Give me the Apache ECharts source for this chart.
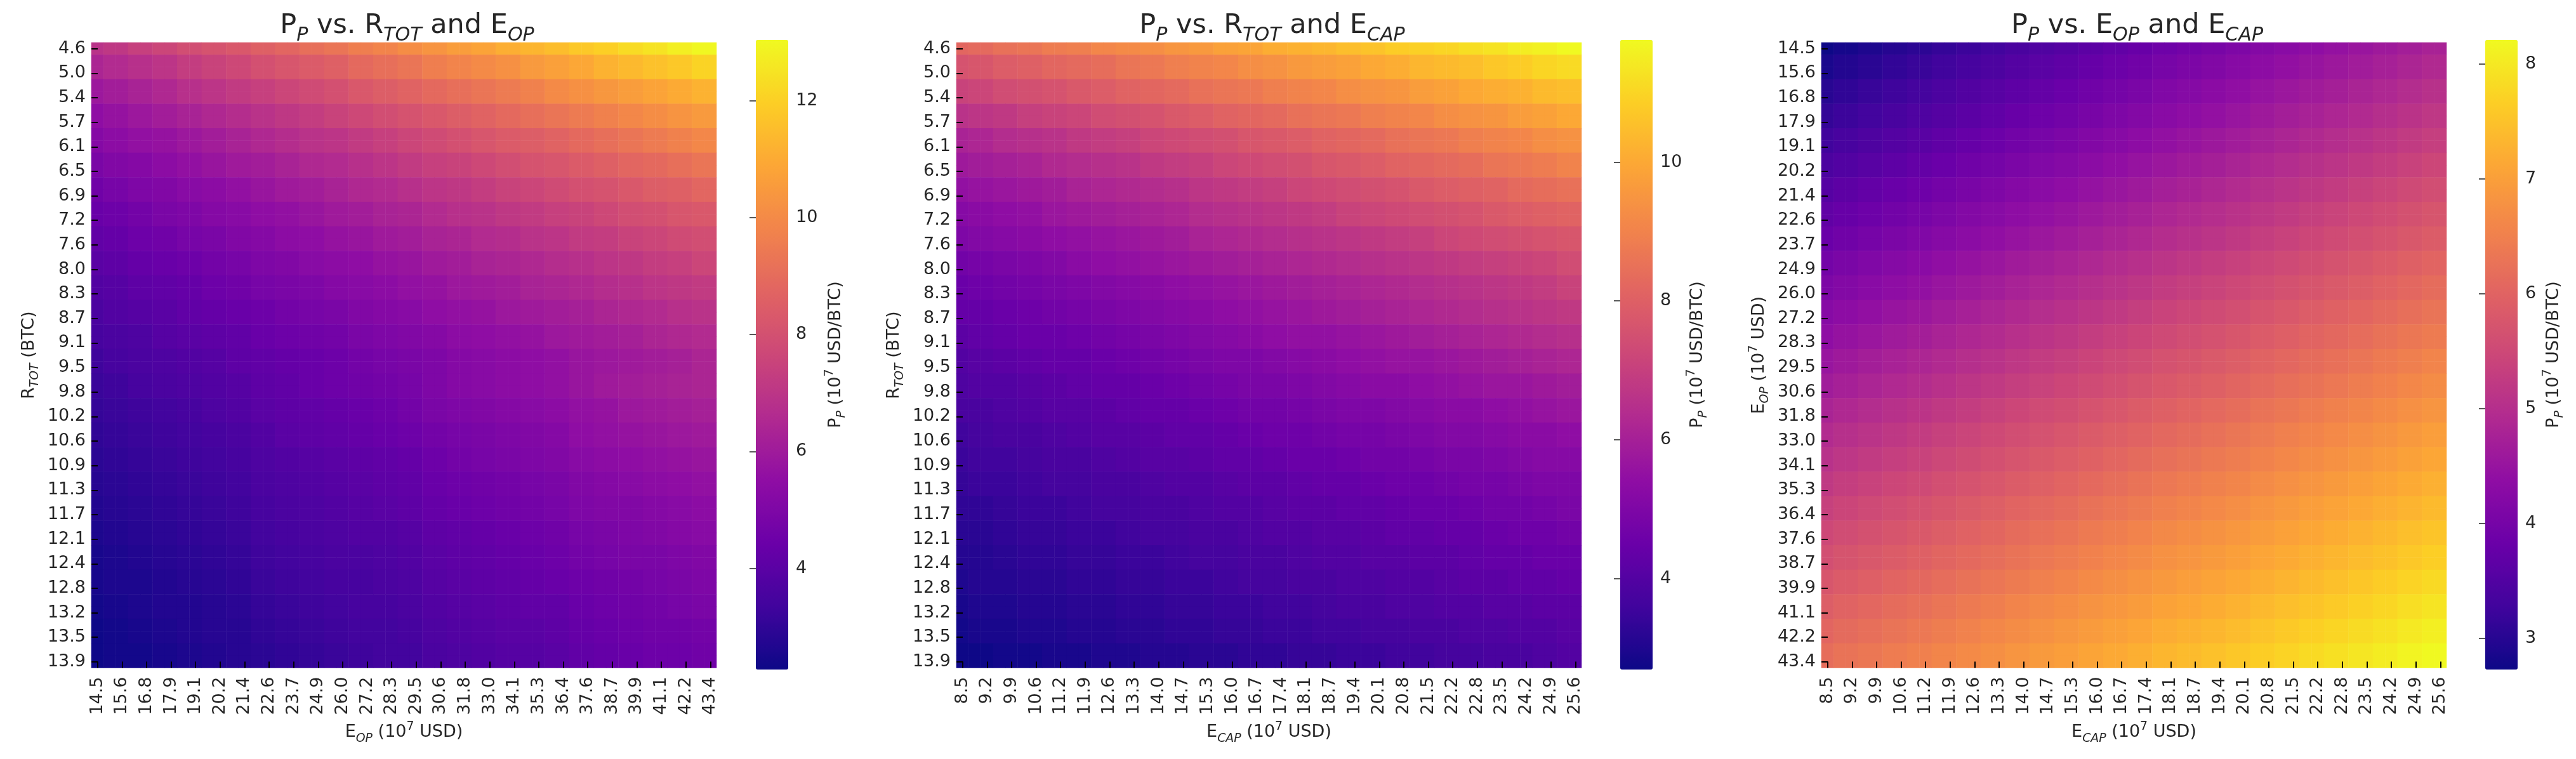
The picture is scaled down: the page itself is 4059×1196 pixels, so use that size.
<!DOCTYPE html>
<html><head><meta charset="utf-8">
<style>html,body{margin:0;padding:0;background:#fff}#c{width:4059px;height:1196px}</style>
<script src="https://cdn.jsdelivr.net/npm/echarts@6/dist/echarts.min.js"></script>
</head><body><div id="c"></div>
<script>
const rTotLabels=['4.6','5.0','5.4','5.7','6.1','6.5','6.9','7.2','7.6','8.0','8.3','8.7','9.1','9.5','9.8','10.2','10.6','10.9','11.3','11.7','12.1','12.4','12.8','13.2','13.5','13.9'];
const eOpLabels=['14.5','15.6','16.8','17.9','19.1','20.2','21.4','22.6','23.7','24.9','26.0','27.2','28.3','29.5','30.6','31.8','33.0','34.1','35.3','36.4','37.6','38.7','39.9','41.1','42.2','43.4'];
const eCapLabels=['8.5','9.2','9.9','10.6','11.2','11.9','12.6','13.3','14.0','14.7','15.3','16.0','16.7','17.4','18.1','18.7','19.4','20.1','20.8','21.5','22.2','22.8','23.5','24.2','24.9','25.6'];
const range1=[2.27,13.04], range2=[2.69,11.76], range3=[2.73,8.21];
const ticks1=[4,6,8,10,12], ticks2=[4,6,8,10], ticks3=[3,4,5,6,7,8];
const plasma=['#0d0887','#41049d','#6a00a8','#8f0da4','#b12a90','#cc4778','#e16462','#f2844b','#fca636','#fcce25','#f0f921'];
const pRvsOp=[
[6.9,7.1,7.4,7.6,7.9,8.1,8.3,8.6,8.8,9.1,9.3,9.6,9.8,10.1,10.3,10.6,10.8,11.1,11.3,11.5,11.8,12.0,12.3,12.5,12.8,13.0],
[6.4,6.6,6.8,7.0,7.3,7.5,7.7,8.0,8.2,8.4,8.6,8.9,9.1,9.3,9.6,9.8,10.0,10.2,10.5,10.7,10.9,11.2,11.4,11.6,11.8,12.1],
[5.9,6.1,6.3,6.5,6.8,7.0,7.2,7.4,7.6,7.8,8.0,8.3,8.5,8.7,8.9,9.1,9.3,9.5,9.7,10.0,10.2,10.4,10.6,10.8,11.0,11.2],
[5.5,5.7,5.9,6.1,6.3,6.5,6.7,6.9,7.1,7.3,7.5,7.7,7.9,8.1,8.3,8.5,8.7,8.9,9.1,9.3,9.5,9.7,9.9,10.1,10.3,10.5],
[5.2,5.4,5.6,5.7,5.9,6.1,6.3,6.5,6.7,6.9,7.0,7.2,7.4,7.6,7.8,8.0,8.2,8.4,8.5,8.7,8.9,9.1,9.3,9.5,9.7,9.9],
[4.9,5.1,5.2,5.4,5.6,5.8,6.0,6.1,6.3,6.5,6.6,6.8,7.0,7.2,7.4,7.5,7.7,7.9,8.1,8.2,8.4,8.6,8.8,8.9,9.1,9.3],
[4.6,4.8,5.0,5.1,5.3,5.4,5.6,5.8,6.0,6.1,6.3,6.5,6.6,6.8,7.0,7.1,7.3,7.5,7.6,7.8,8.0,8.1,8.3,8.5,8.6,8.8],
[4.4,4.5,4.7,4.9,5.0,5.2,5.3,5.5,5.6,5.8,6.0,6.1,6.3,6.4,6.6,6.8,6.9,7.1,7.2,7.4,7.5,7.7,7.9,8.0,8.2,8.3],
[4.2,4.3,4.5,4.6,4.8,4.9,5.1,5.2,5.4,5.5,5.7,5.8,6.0,6.1,6.3,6.4,6.6,6.7,6.9,7.0,7.2,7.3,7.5,7.6,7.8,7.9],
[4.0,4.1,4.3,4.4,4.5,4.7,4.8,5.0,5.1,5.3,5.4,5.5,5.7,5.8,6.0,6.1,6.3,6.4,6.5,6.7,6.8,7.0,7.1,7.3,7.4,7.6],
[3.8,3.9,4.1,4.2,4.3,4.5,4.6,4.8,4.9,5.0,5.2,5.3,5.4,5.6,5.7,5.9,6.0,6.1,6.3,6.4,6.5,6.7,6.8,7.0,7.1,7.2],
[3.6,3.8,3.9,4.0,4.2,4.3,4.4,4.5,4.7,4.8,4.9,5.1,5.2,5.3,5.5,5.6,5.7,5.9,6.0,6.1,6.2,6.4,6.5,6.6,6.8,6.9],
[3.5,3.6,3.7,3.9,4.0,4.1,4.2,4.4,4.5,4.6,4.7,4.9,5.0,5.1,5.2,5.4,5.5,5.6,5.7,5.9,6.0,6.1,6.2,6.4,6.5,6.6],
[3.3,3.5,3.6,3.7,3.8,3.9,4.1,4.2,4.3,4.4,4.5,4.7,4.8,4.9,5.0,5.2,5.3,5.4,5.5,5.6,5.8,5.9,6.0,6.1,6.2,6.4],
[3.2,3.3,3.5,3.6,3.7,3.8,3.9,4.1,4.2,4.4,4.5,4.6,4.7,4.8,5.0,5.2,5.3,5.4,5.5,5.6,5.8,6.0,6.1,6.2,6.3,6.4],
[3.1,3.2,3.3,3.4,3.5,3.7,3.8,4.0,4.1,4.2,4.3,4.4,4.5,4.7,4.9,5.0,5.1,5.2,5.3,5.4,5.6,5.7,5.9,6.0,6.1,6.2],
[3.0,3.1,3.2,3.3,3.4,3.5,3.6,3.8,4.0,4.1,4.2,4.3,4.4,4.5,4.7,4.8,4.9,5.0,5.1,5.2,5.5,5.6,5.7,5.8,5.9,6.0],
[2.9,3.0,3.1,3.2,3.3,3.4,3.5,3.7,3.8,3.9,4.0,4.1,4.2,4.3,4.5,4.7,4.8,4.9,5.0,5.1,5.3,5.4,5.5,5.6,5.7,5.8],
[2.8,2.9,3.0,3.1,3.2,3.3,3.4,3.6,3.7,3.8,3.9,4.0,4.1,4.2,4.4,4.5,4.6,4.7,4.8,4.9,5.1,5.2,5.3,5.4,5.5,5.6],
[2.7,2.8,2.9,3.0,3.1,3.2,3.3,3.5,3.6,3.7,3.8,3.9,4.0,4.1,4.3,4.4,4.5,4.6,4.7,4.8,5.0,5.1,5.1,5.2,5.3,5.4],
[2.6,2.7,2.8,2.9,3.0,3.1,3.2,3.4,3.5,3.6,3.7,3.8,3.8,3.9,4.1,4.2,4.3,4.4,4.5,4.6,4.8,4.9,5.0,5.1,5.2,5.3],
[2.5,2.6,2.7,2.8,2.9,3.0,3.1,3.3,3.4,3.5,3.6,3.6,3.7,3.8,4.0,4.1,4.2,4.3,4.4,4.5,4.7,4.8,4.9,4.9,5.0,5.1],
[2.5,2.6,2.6,2.7,2.8,2.9,3.0,3.2,3.3,3.4,3.5,3.5,3.6,3.7,3.9,4.0,4.1,4.2,4.3,4.4,4.5,4.6,4.7,4.8,4.9,5.0],
[2.4,2.5,2.6,2.7,2.7,2.8,2.9,3.1,3.2,3.3,3.4,3.5,3.5,3.6,3.8,3.9,4.0,4.1,4.2,4.2,4.4,4.5,4.6,4.7,4.8,4.9],
[2.3,2.4,2.5,2.6,2.7,2.8,2.8,3.0,3.1,3.2,3.3,3.4,3.4,3.5,3.7,3.8,3.9,4.0,4.0,4.1,4.3,4.4,4.5,4.6,4.6,4.7],
[2.3,2.4,2.4,2.5,2.6,2.7,2.8,2.9,3.0,3.1,3.2,3.3,3.4,3.4,3.6,3.7,3.8,3.9,3.9,4.0,4.2,4.3,4.4,4.5,4.5,4.6]];
const pRvsCap=[
[8.2,8.3,8.5,8.6,8.8,8.9,9.1,9.2,9.3,9.5,9.6,9.8,9.9,10.1,10.2,10.3,10.5,10.6,10.8,10.9,11.0,11.2,11.3,11.5,11.6,11.8],
[7.6,7.7,7.9,8.0,8.2,8.3,8.4,8.6,8.7,8.9,9.0,9.1,9.3,9.4,9.6,9.7,9.8,10.0,10.1,10.3,10.4,10.5,10.7,10.8,11.0,11.1],
[7.1,7.2,7.4,7.5,7.6,7.8,7.9,8.1,8.2,8.3,8.5,8.6,8.7,8.9,9.0,9.1,9.3,9.4,9.5,9.7,9.8,10.0,10.1,10.2,10.4,10.5],
[6.6,6.7,6.8,7.0,7.1,7.2,7.4,7.5,7.6,7.8,7.9,8.1,8.2,8.3,8.5,8.6,8.7,8.9,9.0,9.1,9.3,9.4,9.5,9.7,9.8,10.0],
[6.1,6.2,6.4,6.5,6.6,6.8,6.9,7.0,7.2,7.3,7.4,7.5,7.7,7.8,7.9,8.1,8.2,8.3,8.5,8.6,8.7,8.9,9.0,9.1,9.3,9.4],
[5.8,5.9,6.0,6.1,6.3,6.4,6.5,6.6,6.8,6.9,7.0,7.2,7.3,7.4,7.5,7.7,7.8,7.9,8.1,8.2,8.3,8.4,8.6,8.7,8.8,9.0],
[5.5,5.6,5.7,5.8,5.9,6.1,6.2,6.3,6.4,6.5,6.7,6.8,6.9,7.0,7.2,7.3,7.4,7.5,7.6,7.8,7.9,8.0,8.1,8.3,8.4,8.5],
[5.2,5.3,5.4,5.5,5.7,5.8,5.9,6.0,6.1,6.2,6.4,6.5,6.6,6.7,6.8,6.9,7.1,7.2,7.3,7.4,7.5,7.6,7.8,7.9,8.0,8.1],
[5.0,5.1,5.2,5.3,5.4,5.5,5.6,5.7,5.8,5.9,6.1,6.2,6.3,6.4,6.5,6.6,6.7,6.8,6.9,7.0,7.2,7.3,7.4,7.5,7.6,7.7],
[4.7,4.8,4.9,5.0,5.1,5.3,5.4,5.5,5.6,5.7,5.8,5.9,6.0,6.1,6.2,6.3,6.4,6.5,6.6,6.7,6.8,6.9,7.0,7.1,7.2,7.4],
[4.5,4.6,4.7,4.8,4.9,5.0,5.1,5.2,5.3,5.4,5.5,5.6,5.7,5.8,5.9,6.0,6.1,6.2,6.3,6.4,6.5,6.6,6.7,6.8,6.9,7.1],
[4.4,4.4,4.5,4.6,4.7,4.8,4.9,5.0,5.1,5.2,5.3,5.4,5.5,5.6,5.7,5.8,5.9,6.0,6.1,6.2,6.3,6.4,6.5,6.6,6.7,6.8],
[4.2,4.3,4.4,4.5,4.5,4.6,4.7,4.8,4.9,5.0,5.1,5.2,5.3,5.4,5.5,5.5,5.6,5.7,5.8,5.9,6.0,6.1,6.2,6.3,6.4,6.5],
[4.0,4.1,4.2,4.3,4.4,4.4,4.5,4.6,4.7,4.8,4.9,5.0,5.0,5.1,5.2,5.3,5.4,5.5,5.6,5.6,5.7,5.8,5.9,6.0,6.1,6.2],
[3.9,4.0,4.0,4.1,4.2,4.3,4.4,4.4,4.5,4.6,4.7,4.8,4.9,4.9,5.0,5.1,5.2,5.3,5.3,5.4,5.5,5.6,5.7,5.7,5.8,5.9],
[3.8,3.8,3.9,4.0,4.1,4.1,4.2,4.3,4.4,4.4,4.5,4.6,4.7,4.7,4.8,4.9,5.0,5.0,5.1,5.2,5.3,5.3,5.4,5.5,5.6,5.7],
[3.6,3.7,3.8,3.8,3.9,4.0,4.1,4.1,4.2,4.3,4.3,4.4,4.5,4.6,4.6,4.7,4.8,4.8,4.9,5.0,5.1,5.1,5.2,5.3,5.3,5.4],
[3.5,3.6,3.6,3.7,3.8,3.8,3.9,4.0,4.1,4.1,4.2,4.3,4.3,4.4,4.5,4.5,4.6,4.7,4.7,4.8,4.9,4.9,5.0,5.1,5.2,5.2],
[3.4,3.5,3.5,3.6,3.7,3.7,3.8,3.8,3.9,4.0,4.0,4.1,4.2,4.2,4.3,4.4,4.4,4.5,4.6,4.6,4.7,4.8,4.8,4.9,5.0,5.0],
[3.3,3.3,3.4,3.5,3.5,3.6,3.7,3.7,3.8,3.8,3.9,4.0,4.0,4.1,4.2,4.2,4.3,4.3,4.4,4.5,4.5,4.6,4.7,4.7,4.8,4.9],
[3.2,3.2,3.3,3.4,3.4,3.5,3.5,3.6,3.7,3.7,3.8,3.8,3.9,4.0,4.0,4.1,4.1,4.2,4.3,4.3,4.4,4.4,4.5,4.6,4.6,4.7],
[3.1,3.1,3.2,3.3,3.3,3.4,3.4,3.5,3.5,3.6,3.7,3.7,3.8,3.8,3.9,4.0,4.0,4.1,4.1,4.2,4.2,4.3,4.4,4.4,4.5,4.5],
[3.0,3.1,3.1,3.2,3.2,3.3,3.3,3.4,3.4,3.5,3.5,3.6,3.7,3.7,3.8,3.8,3.9,3.9,4.0,4.0,4.1,4.2,4.2,4.3,4.3,4.4],
[2.9,3.0,3.0,3.1,3.1,3.2,3.2,3.3,3.3,3.4,3.4,3.5,3.5,3.6,3.6,3.7,3.8,3.8,3.9,3.9,4.0,4.0,4.1,4.1,4.2,4.2],
[2.8,2.9,2.9,3.0,3.0,3.1,3.1,3.2,3.2,3.3,3.3,3.4,3.4,3.5,3.5,3.6,3.6,3.7,3.7,3.8,3.8,3.9,3.9,4.0,4.0,4.1],
[2.7,2.7,2.8,2.8,2.9,2.9,3.0,3.0,3.1,3.1,3.2,3.2,3.3,3.3,3.4,3.4,3.5,3.5,3.6,3.6,3.7,3.7,3.8,3.8,3.9,4.0]];
const pOpvsCap=[
[2.74,2.83,2.91,2.99,3.06,3.15,3.23,3.31,3.40,3.48,3.55,3.64,3.72,3.80,3.89,3.96,4.04,4.12,4.21,4.29,4.37,4.45,4.53,4.61,4.70,4.78],
[2.87,2.96,3.04,3.12,3.19,3.28,3.36,3.44,3.53,3.61,3.68,3.77,3.85,3.93,4.02,4.09,4.17,4.25,4.34,4.42,4.50,4.58,4.66,4.74,4.83,4.91],
[3.01,3.10,3.18,3.26,3.33,3.42,3.50,3.58,3.67,3.75,3.82,3.91,3.99,4.07,4.16,4.23,4.31,4.39,4.48,4.56,4.64,4.72,4.80,4.88,4.97,5.05],
[3.14,3.23,3.31,3.39,3.46,3.55,3.63,3.71,3.80,3.88,3.95,4.04,4.12,4.20,4.29,4.36,4.44,4.52,4.61,4.69,4.77,4.85,4.93,5.01,5.10,5.18],
[3.28,3.37,3.45,3.53,3.60,3.69,3.77,3.85,3.94,4.02,4.09,4.18,4.26,4.34,4.43,4.50,4.58,4.66,4.75,4.83,4.91,4.99,5.07,5.15,5.24,5.32],
[3.42,3.51,3.59,3.67,3.74,3.83,3.91,3.99,4.08,4.16,4.23,4.32,4.40,4.48,4.57,4.64,4.72,4.80,4.89,4.97,5.05,5.13,5.21,5.29,5.38,5.46],
[3.56,3.65,3.73,3.81,3.88,3.97,4.05,4.13,4.22,4.30,4.37,4.46,4.54,4.62,4.71,4.78,4.86,4.94,5.03,5.11,5.19,5.27,5.35,5.43,5.52,5.60],
[3.70,3.79,3.87,3.95,4.02,4.11,4.19,4.27,4.36,4.44,4.51,4.60,4.68,4.76,4.85,4.92,5.00,5.08,5.17,5.25,5.33,5.41,5.49,5.57,5.66,5.74],
[3.83,3.92,4.00,4.08,4.15,4.24,4.32,4.40,4.49,4.57,4.64,4.73,4.81,4.89,4.98,5.05,5.13,5.21,5.30,5.38,5.46,5.54,5.62,5.70,5.79,5.87],
[3.98,4.07,4.15,4.23,4.30,4.39,4.47,4.55,4.64,4.72,4.79,4.88,4.96,5.04,5.13,5.20,5.28,5.36,5.45,5.53,5.61,5.69,5.77,5.85,5.94,6.02],
[4.11,4.20,4.28,4.36,4.43,4.52,4.60,4.68,4.77,4.85,4.92,5.01,5.09,5.17,5.26,5.33,5.41,5.49,5.58,5.66,5.74,5.82,5.90,5.98,6.07,6.15],
[4.25,4.34,4.42,4.50,4.57,4.66,4.74,4.82,4.91,4.99,5.06,5.15,5.23,5.31,5.40,5.47,5.55,5.63,5.72,5.80,5.88,5.96,6.04,6.12,6.21,6.29],
[4.38,4.47,4.55,4.63,4.70,4.79,4.87,4.95,5.04,5.12,5.19,5.28,5.36,5.44,5.53,5.60,5.68,5.76,5.85,5.93,6.01,6.09,6.17,6.25,6.34,6.42],
[4.52,4.61,4.69,4.77,4.84,4.93,5.01,5.09,5.18,5.26,5.33,5.42,5.50,5.58,5.67,5.74,5.82,5.90,5.99,6.07,6.15,6.23,6.31,6.39,6.48,6.56],
[4.65,4.74,4.82,4.90,4.97,5.06,5.14,5.22,5.31,5.39,5.46,5.55,5.63,5.71,5.80,5.87,5.95,6.03,6.12,6.20,6.28,6.36,6.44,6.52,6.61,6.69],
[4.80,4.89,4.97,5.05,5.12,5.21,5.29,5.37,5.46,5.54,5.61,5.70,5.78,5.86,5.95,6.02,6.10,6.18,6.27,6.35,6.43,6.51,6.59,6.67,6.76,6.84],
[4.94,5.03,5.11,5.19,5.26,5.35,5.43,5.51,5.60,5.68,5.75,5.84,5.92,6.00,6.09,6.16,6.24,6.32,6.41,6.49,6.57,6.65,6.73,6.81,6.90,6.98],
[5.07,5.16,5.24,5.32,5.39,5.48,5.56,5.64,5.73,5.81,5.88,5.97,6.05,6.13,6.22,6.29,6.37,6.45,6.54,6.62,6.70,6.78,6.86,6.94,7.03,7.11],
[5.21,5.30,5.38,5.46,5.53,5.62,5.70,5.78,5.87,5.95,6.02,6.11,6.19,6.27,6.36,6.43,6.51,6.59,6.68,6.76,6.84,6.92,7.00,7.08,7.17,7.25],
[5.35,5.44,5.52,5.60,5.67,5.76,5.84,5.92,6.01,6.09,6.16,6.25,6.33,6.41,6.50,6.57,6.65,6.73,6.82,6.90,6.98,7.06,7.14,7.22,7.31,7.39],
[5.49,5.58,5.66,5.74,5.81,5.90,5.98,6.06,6.15,6.23,6.30,6.39,6.47,6.55,6.64,6.71,6.79,6.87,6.96,7.04,7.12,7.20,7.28,7.36,7.45,7.53],
[5.62,5.71,5.79,5.87,5.94,6.03,6.11,6.19,6.28,6.36,6.43,6.52,6.60,6.68,6.77,6.84,6.92,7.00,7.09,7.17,7.25,7.33,7.41,7.49,7.58,7.66],
[5.76,5.85,5.93,6.01,6.08,6.17,6.25,6.33,6.42,6.50,6.57,6.66,6.74,6.82,6.91,6.98,7.06,7.14,7.23,7.31,7.39,7.47,7.55,7.63,7.72,7.80],
[5.90,5.99,6.07,6.15,6.22,6.31,6.39,6.47,6.56,6.64,6.71,6.80,6.88,6.96,7.05,7.12,7.20,7.28,7.37,7.45,7.53,7.61,7.69,7.77,7.86,7.94],
[6.04,6.13,6.21,6.29,6.36,6.45,6.53,6.61,6.70,6.78,6.85,6.94,7.02,7.10,7.19,7.26,7.34,7.42,7.51,7.59,7.67,7.75,7.83,7.91,8.00,8.08],
[6.18,6.27,6.35,6.43,6.50,6.59,6.67,6.75,6.84,6.92,6.99,7.08,7.16,7.24,7.33,7.40,7.48,7.56,7.65,7.73,7.81,7.89,7.97,8.05,8.14,8.21]];

const FONT='DejaVu Sans', INK='#262626';
const rich=(size)=>({
  n:{fontFamily:FONT,fontWeight:'normal',fontSize:size,color:INK,lineHeight:size*1.4,verticalAlign:'middle'},
  s:{fontFamily:FONT,fontWeight:'normal',fontSize:size*0.7,fontStyle:'italic',color:INK,lineHeight:size*1.4,verticalAlign:'bottom'},
  u:{fontFamily:FONT,fontWeight:'normal',fontSize:size*0.7,color:INK,lineHeight:size*1.4,verticalAlign:'top'}
});
const sym=(a,b)=>`{n|${a}}{s|${b}}`;
const E_OP=sym('E','OP')+'{n| (10}{u|7}{n| USD)}', E_CAP=sym('E','CAP')+'{n| (10}{u|7}{n| USD)}', R_TOT=sym('R','TOT')+'{n| (BTC)}';
const P_NAME=sym('P','P')+'{n| (10}{u|7}{n| USD/BTC)}';

const panels=[
 {left:144,bar:1191,barGap:56,title:sym('P','P')+'{n| vs. R}{s|TOT}{n| and E}{s|OP}',xLab:eOpLabels,yLab:rTotLabels,xName:E_OP,yName:R_TOT,data:pRvsOp,range:range1,ticks:ticks1},
 {left:1507,bar:2553,barGap:52,title:sym('P','P')+'{n| vs. R}{s|TOT}{n| and E}{s|CAP}',xLab:eCapLabels,yLab:rTotLabels,xName:E_CAP,yName:R_TOT,data:pRvsCap,range:range2,ticks:ticks2},
 {left:2870,bar:3916,barGap:38,title:sym('P','P')+'{n| vs. E}{s|OP}{n| and E}{s|CAP}',xLab:eCapLabels,yLab:eOpLabels,xName:E_CAP,yName:E_OP,data:pOpvsCap,range:range3,ticks:ticks3}
];
const W=985,T=67,H=985.5,BT=63,BH=992,BW=51;
// 26 labelled values are shown on the heatmap's 51-cell axes, a label on every second cell
const cats=l=>{const o=[];l.forEach((v,i)=>{o.push(v);if(i<l.length-1)o.push('');});return o;};
const opt={animation:false,backgroundColor:'#fff',title:[],grid:[],xAxis:[],yAxis:[],visualMap:[],series:[]};
panels.forEach((p,k)=>{
  const tickStyle={show:true,inside:true,length:10,interval:1,alignWithLabel:true,lineStyle:{color:'#000',width:2}};
  opt.title.push({text:p.title,left:p.left+W/2,top:6,textAlign:'center',textStyle:{fontWeight:'normal',rich:rich(43)}});
  opt.grid.push({left:p.left,top:T,width:W,height:H});
  opt.xAxis.push({type:'category',gridIndex:k*2,data:cats(p.xLab),z:10,axisLine:{show:false},axisTick:tickStyle,splitLine:{show:false},
    axisLabel:{interval:1,rotate:90,fontFamily:FONT,fontSize:27,color:INK,margin:14},
    name:p.xName,nameLocation:'middle',nameGap:83,nameTextStyle:{rich:rich(27)}});
  opt.yAxis.push({type:'category',gridIndex:k*2,inverse:true,data:cats(p.yLab),z:10,axisLine:{show:false},axisTick:tickStyle,splitLine:{show:false},
    axisLabel:{interval:1,fontFamily:FONT,fontSize:27,color:INK,margin:9},
    name:p.yName,nameLocation:'middle',nameGap:79,nameRotate:90,nameTextStyle:{rich:rich(27)}});
  opt.grid.push({left:p.bar,top:BT,width:BW,height:BH});
  opt.xAxis.push({type:'value',gridIndex:k*2+1,show:false,min:0,max:1});
  opt.yAxis.push({type:'value',gridIndex:k*2+1,position:'right',min:p.range[0],max:p.range[1],z:10,
    axisLine:{show:false},splitLine:{show:false},
    axisTick:{show:true,inside:true,length:10,customValues:p.ticks,lineStyle:{color:'#222',width:1.5}},
    axisLabel:{customValues:p.ticks,fontFamily:FONT,fontSize:27,color:INK,margin:12,formatter:v=>String(v)},
    name:P_NAME,nameLocation:'middle',nameGap:p.barGap,nameRotate:90,nameTextStyle:{rich:rich(27)}});
  opt.visualMap.push({type:'continuous',seriesIndex:k,min:p.range[0],max:p.range[1],left:p.bar,top:BT,itemWidth:BW,itemHeight:BH,padding:0,
    calculable:false,realtime:false,text:null,showLabel:false,hoverLink:false,z:2,inRange:{color:plasma},textStyle:{color:'rgba(0,0,0,0)',fontSize:1}});
  const cells=[];
  for(let r=0;r<51;r++)for(let c=0;c<51;c++)cells.push([c,r,p.data[Math.ceil(r/2)][Math.ceil(c/2)]]);
  opt.series.push({type:'heatmap',xAxisIndex:k*2,yAxisIndex:k*2,data:cells,z:1,silent:true,itemStyle:{borderWidth:0},emphasis:{disabled:true}});
});
const chart=echarts.init(document.getElementById('c'),null,{renderer:'canvas'});
chart.setOption(opt);
</script></body></html>
